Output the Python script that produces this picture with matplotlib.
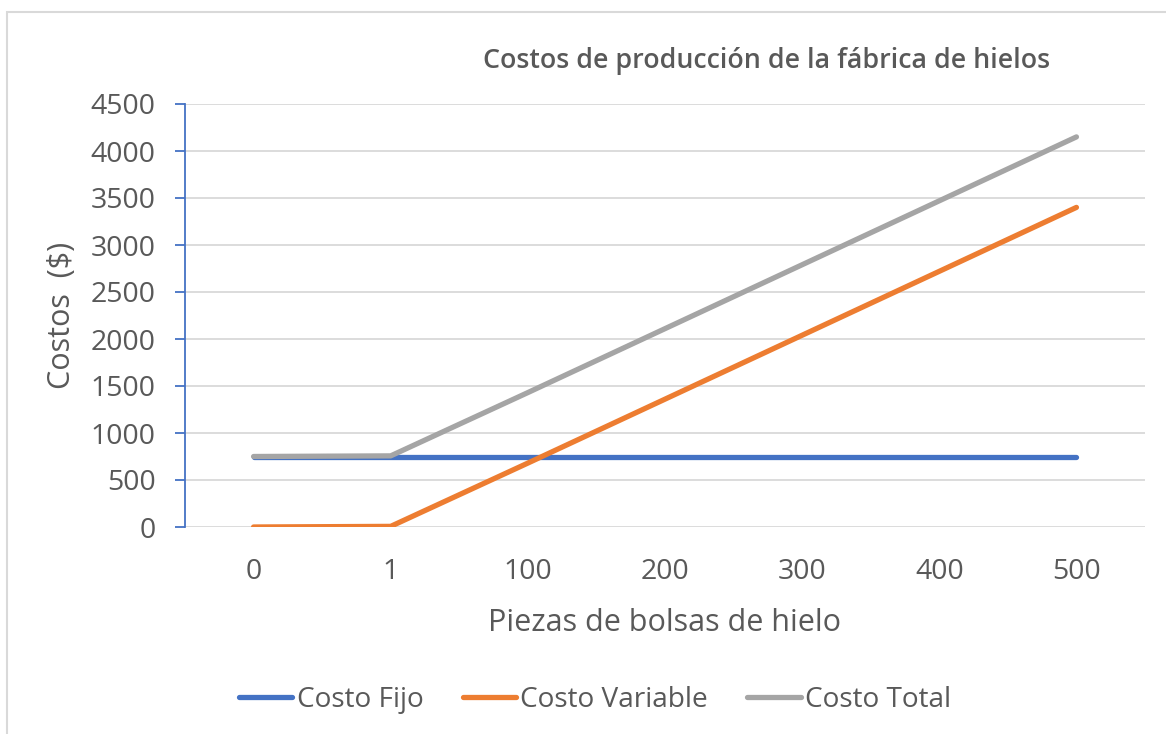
import numpy as np
import matplotlib.pyplot as plt
from matplotlib.patches import Rectangle

# datos
piezas = ['0', '1', '100', '200', '300', '400', '500']
costo_fijo = [750, 750, 750, 750, 750, 750, 750]
costo_variable = [0, 6.8, 680, 1360, 2040, 2720, 3400]
costo_total = [750, 756.8, 1430, 2110, 2790, 3470, 4150]

plt.rcParams['font.family'] = ['Open Sans', 'DejaVu Sans']
texto = '#595959'

fig = plt.figure(figsize=(11.66, 7.34), dpi=100)
ax = fig.add_axes([185 / 1166, 1 - 527 / 734, 960 / 1166, 423 / 734])

# marco del grafico
fig.patches.append(Rectangle((7 / 1166, -0.05), 1.2, 1 - 12 / 734 + 0.05,
                             transform=fig.transFigure, fill=False,
                             edgecolor='#D9D9D9', linewidth=1.5))

x = np.arange(len(piezas))
ax.plot(x, costo_fijo, color='#4472C4', lw=3.8, solid_capstyle='round', label='Costo Fijo')
ax.plot(x, costo_variable, color='#ED7D31', lw=3.8, solid_capstyle='round', label='Costo Variable')
ax.plot(x, costo_total, color='#A5A5A5', lw=3.8, solid_capstyle='round', label='Costo Total')

ax.set_xlim(-0.5, len(piezas) - 0.5)
ax.set_ylim(0, 4500)
ax.set_yticks(np.arange(0, 4501, 500))
ax.set_xticks(x)
ax.set_xticklabels(piezas)
ax.grid(axis='y', color='#D9D9D9', lw=1.3)
ax.set_axisbelow(True)

for s in ['top', 'right', 'bottom']:
    ax.spines[s].set_visible(False)
ax.spines['left'].set_color('#4472C4')
ax.spines['left'].set_linewidth(1.3)
ax.tick_params(axis='y', colors='#4472C4', length=7, width=1.3, labelcolor=texto,
               labelsize=20.5, pad=14)
ax.tick_params(axis='x', length=0, labelcolor=texto, labelsize=20.5, pad=22)

ax.set_xlabel('Piezas de bolsas de hielo', color=texto, fontsize=22, labelpad=16)
ax.set_ylabel('Costos  ($)', color=texto, fontsize=22, labelpad=10)

fig.text(767 / 1166, 1 - 61 / 734, 'Costos de producción de la fábrica de hielos',
         ha='center', va='center', color=texto, fontsize=19.3, fontweight='semibold')

ax.legend(loc='center', bbox_to_anchor=(595 / 1166, 1 - 700 / 734),
          bbox_transform=fig.transFigure, ncol=3, frameon=False, fontsize=20.2,
          labelcolor=texto, handlelength=1.9, handletextpad=0.15, columnspacing=1.4)

fig.savefig('out.png', dpi=100)
